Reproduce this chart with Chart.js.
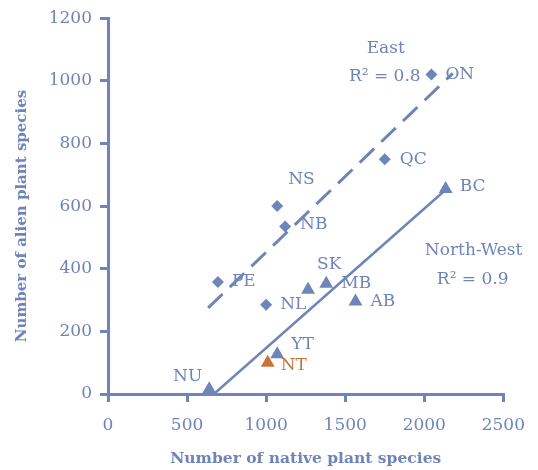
<!DOCTYPE html>
<html>
<head>
<meta charset="utf-8">
<script src="https://cdn.jsdelivr.net/npm/chart.js@4.4.1/dist/chart.umd.min.js"></script>
<style>
  html, body { margin: 0; padding: 0; background: #ffffff; }
  #wrap { width: 538px; height: 470px; position: relative; }
</style>
</head>
<body>
<div id="wrap"><canvas id="c"></canvas></div>
<script>
// ---------- DATA ----------
const eastNames = ['ON', 'QC', 'NS', 'NB', 'PE', 'NL'];
const eastNative = [2045, 1750, 1070, 1120, 695, 1000];
const eastAlien = [1020, 750, 600, 535, 358, 285];

const westNames = ['BC', 'SK', 'MB', 'AB', 'YT', 'NU'];
const westNative = [2135, 1265, 1380, 1565, 1070, 640];
const westAlien = [655, 333, 352, 295, 127, 15];

const ntNames = ['NT'];
const ntNative = [1010];
const ntAlien = [100];

const eastFitX = [633, 2180];
const eastFitY = [275, 1024];
const westFitX = [670, 2130];
const westFitY = [0, 650];

const xTicks = [0, 500, 1000, 1500, 2000, 2500];
const yTicks = [0, 200, 400, 600, 800, 1000, 1200];

const xTitle = 'Number of native plant species';
const yTitle = 'Number of alien plant species';

// text annotations (anchored in data units)
const notes = [
  { text: 'East', x: 1756, y: 1104, align: 'center' },
  { text: 'R\u00B2 = 0.8', x: 1977, y: 1014, align: 'right' },
  { text: 'North-West', x: 2312, y: 458, align: 'center' },
  { text: 'R\u00B2 = 0.9', x: 2306, y: 365, align: 'center' }
];

// ---------- STYLE ----------
const BLUE = '#6f84b9';
const ORANGE = '#c7733b';
const SERIF = '"DejaVu Serif", serif';

// point-label offsets in pixels (style only)
const labelOffsets = {
  ON: [14, 0, 'left'], QC: [15, 0, 'left'], NS: [11, -27, 'left'],
  NB: [15, -2, 'left'], PE: [14, 0, 'left'], NL: [14, 0, 'left'],
  BC: [14, -2, 'left'], SK: [9, -25, 'left'], MB: [15, 0, 'left'],
  AB: [15, 0, 'left'], YT: [14, -10, 'left'], NU: [-7, -13, 'right'],
  NT: [13, 3, 'left']
};

const toPts = (xs, ys) => xs.map((x, i) => ({ x: x, y: ys[i] }));

const labelPlugin = {
  id: 'labels',
  afterDatasetsDraw(chart) {
    const ctx = chart.ctx;
    const xs = chart.scales.x, ys = chart.scales.y;
    ctx.save();
    ctx.font = '17px ' + SERIF;
    ctx.textBaseline = 'middle';
    const groups = [
      [eastNames, eastNative, eastAlien, BLUE],
      [westNames, westNative, westAlien, BLUE],
      [ntNames, ntNative, ntAlien, ORANGE]
    ];
    groups.forEach(([names, nx, ay, col]) => {
      names.forEach((n, i) => {
        const off = labelOffsets[n] || [12, 0, 'left'];
        ctx.fillStyle = col;
        ctx.textAlign = off[2];
        ctx.fillText(n, xs.getPixelForValue(nx[i]) + off[0], ys.getPixelForValue(ay[i]) + off[1]);
      });
    });
    ctx.fillStyle = BLUE;
    notes.forEach(nt => {
      ctx.textAlign = nt.align;
      ctx.fillText(nt.text, xs.getPixelForValue(nt.x), ys.getPixelForValue(nt.y));
    });
    // y-axis title
    ctx.save();
    ctx.translate(22, 216);
    ctx.rotate(-Math.PI / 2);
    ctx.font = 'bold 15px ' + SERIF;
    ctx.textAlign = 'center';
    ctx.fillText(yTitle, 0, 0);
    ctx.restore();
    ctx.restore();
  }
};

new Chart(document.getElementById('c'), {
  type: 'scatter',
  data: {
    datasets: [
      {
        label: 'East fit', data: toPts(eastFitX, eastFitY), showLine: true,
        borderColor: BLUE, borderWidth: 3, borderDash: [20, 10], pointRadius: 0, order: 5
      },
      {
        label: 'North-West fit', data: toPts(westFitX, westFitY), showLine: true,
        borderColor: BLUE, borderWidth: 2.5, pointRadius: 0, order: 5
      },
      {
        label: 'East', data: toPts(eastNative, eastAlien), pointStyle: 'rectRot',
        pointRadius: 6, backgroundColor: BLUE, borderColor: BLUE, borderWidth: 0, order: 1
      },
      {
        label: 'North-West', data: toPts(westNative, westAlien), pointStyle: 'triangle',
        pointRadius: 8, backgroundColor: BLUE, borderColor: BLUE, borderWidth: 0, order: 1
      },
      {
        label: 'NT', data: toPts(ntNative, ntAlien), pointStyle: 'triangle',
        pointRadius: 8, backgroundColor: ORANGE, borderColor: ORANGE, borderWidth: 0, order: 1
      }
    ]
  },
  options: {
    responsive: true,
    maintainAspectRatio: false,
    animation: false,
    events: [],
    layout: { padding: { top: 10, right: 33, bottom: 2, left: 0 } },
    plugins: { legend: { display: false }, tooltip: { enabled: false } },
    scales: {
      x: {
        type: 'linear', min: 0, max: 2500,
        afterBuildTicks: s => { s.ticks = xTicks.map(v => ({ value: v })); },
        afterFit: s => { s.height = 74; },
        grid: { display: true, drawOnChartArea: false, drawTicks: true, tickLength: 8, lineWidth: 3, color: BLUE },
        border: { display: true, width: 3, color: BLUE },
        ticks: { color: BLUE, font: { family: SERIF, size: 17 }, padding: 13, maxRotation: 0, callback: v => String(v) },
        title: { display: true, text: xTitle, color: BLUE, font: { family: SERIF, size: 15.5, weight: 'bold' }, padding: { top: 4, bottom: 0 } }
      },
      y: {
        type: 'linear', min: 0, max: 1200,
        afterBuildTicks: s => { s.ticks = yTicks.map(v => ({ value: v })); },
        afterFit: s => { s.width = 108; },
        grid: { display: true, drawOnChartArea: false, drawTicks: true, tickLength: 8, lineWidth: 3, color: BLUE },
        border: { display: true, width: 3, color: BLUE },
        ticks: { color: BLUE, font: { family: SERIF, size: 17 }, padding: 8, callback: v => String(v) },
        title: { display: false }
      }
    }
  },
  plugins: [labelPlugin]
});
</script>
</body>
</html>
